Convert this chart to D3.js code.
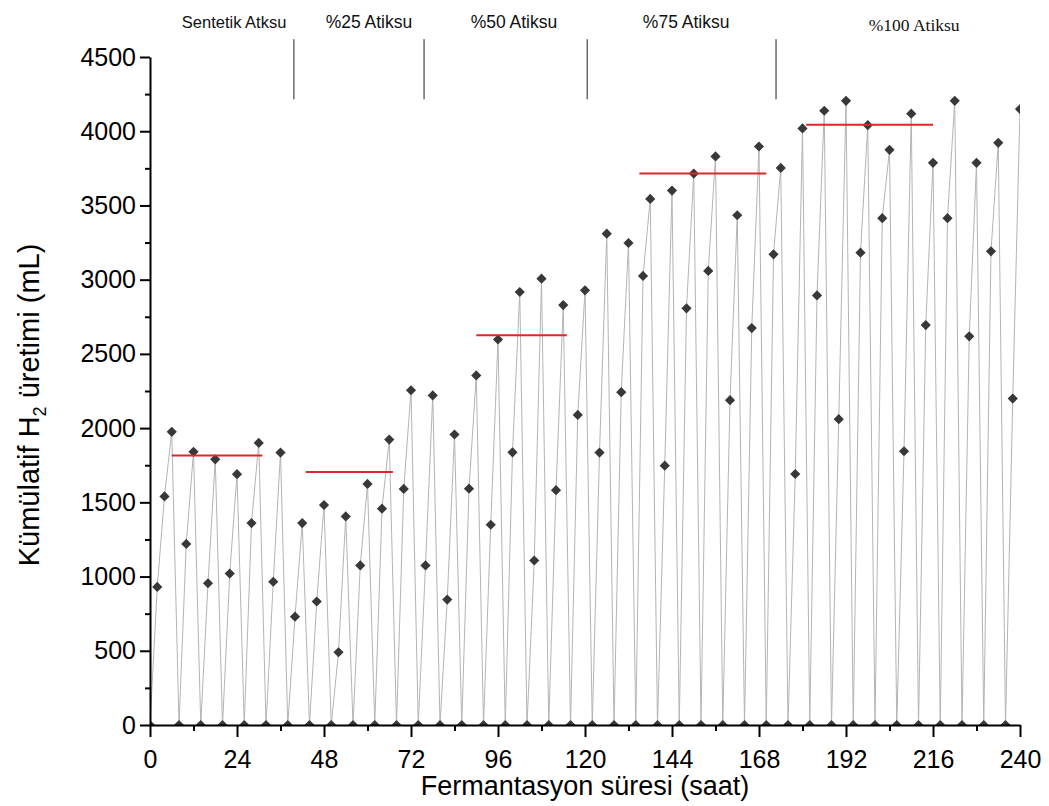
<!DOCTYPE html>
<html>
<head>
<meta charset="utf-8">
<script src="https://cdnjs.cloudflare.com/ajax/libs/d3/7.8.5/d3.min.js"></script>
<style>
  body { margin: 0; background: #fff; }
  text { font-family: "Liberation Sans", Arial, sans-serif; }
</style>
</head>
<body>
<div id="chart"></div>
<script>
// Width and height
var chart_width     =   1049;
var chart_height    =   806;
var margin = {left: 150, right: 29, top: 57, bottom: 81};

// sampling hours (every 2 h)
var hours = [
  0, 2, 4, 6, 8, 10, 12, 14, 16, 18, 20, 22, 24, 26, 28, 30, 32, 34, 36, 38,
  40, 42, 44, 46, 48, 50, 52, 54, 56, 58, 60, 62, 64, 66, 68, 70, 72, 74, 76, 78,
  80, 82, 84, 86, 88, 90, 92, 94, 96, 98, 100, 102, 104, 106, 108, 110, 112, 114, 116, 118,
  120, 122, 124, 126, 128, 130, 132, 134, 136, 138, 140, 142, 144, 146, 148, 150, 152, 154, 156, 158,
  160, 162, 164, 166, 168, 170, 172, 174, 176, 178, 180, 182, 184, 186, 188, 190, 192, 194, 196, 198,
  200, 202, 204, 206, 208, 210, 212, 214, 216, 218, 220, 222, 224, 226, 228, 230, 232, 234, 236, 238,
  240
];

// cumulative H2 (mL)
var h2 = [
  0, 930, 1540, 1975, 0, 1220, 1840, 0, 955, 1790, 0, 1020, 1690, 0, 1360, 1900, 0, 965, 1835, 0,
  730, 1360, 0, 832, 1482, 0, 490, 1405, 0, 1075, 1624, 0, 1457, 1923, 0, 1590, 2255, 0, 1075, 2220,
  0, 845, 1957, 0, 1592, 2355, 0, 1349, 2597, 0, 1837, 2917, 0, 1108, 3007, 0, 1582, 2829, 0, 2089,
  2928, 0, 1835, 3310, 0, 2242, 3247, 0, 3025, 3544, 0, 1747, 3600, 0, 2807, 3715, 0, 3059, 3830, 0,
  2188, 3434, 0, 2674, 3897, 0, 3171, 3753, 0, 1691, 4019, 0, 2894, 4138, 0, 2060, 4205, 0, 3182, 4041,
  0, 3414, 3875, 0, 1844, 4118, 0, 2694, 3787, 0, 3414, 4205, 0, 2618, 3787, 0, 3191, 3922, 0, 2199,
  4149
];

// average levels (red lines) per wastewater ratio
var avg_start = [6, 43, 90, 135, 181];
var avg_end   = [31, 67, 115, 170, 216];
var avg_value = [1815, 1705, 2625, 3715, 4043];

// section labels at top and the divider lines between them
var section_names  = ["Sentetik Atksu", "%25 Atiksu", "%50 Atiksu", "%75 Atiksu", "%100 Atiksu"];
var section_center = [23.2, 60.4, 100.4, 147.9, 210.8];
var dividers       = [39.7, 75.6, 120.6, 172.7];

var x_ticks = [0, 24, 48, 72, 96, 120, 144, 168, 192, 216, 240];
var y_ticks = [0, 500, 1000, 1500, 2000, 2500, 3000, 3500, 4000, 4500];

var data = hours.map(function(h, i){
  return {t: h, v: h2[i]};
});

// scales
var x = d3.scaleLinear()
    .domain([0, 240])
    .range([margin.left, chart_width - margin.right]);
var y = d3.scaleLinear()
    .domain([0, 4500])
    .range([chart_height - margin.bottom, margin.top]);

// Create SVG
var svg             =   d3.select("#chart")
    .append("svg")
    .attr("width", chart_width)
    .attr("height", chart_height);

//clip so the markers on the baseline show only their upper half
svg.append("clipPath")
    .attr("id", "plot-clip")
    .append("rect")
    .attr("x", x(0))
    .attr("y", 0)
    .attr("width", x(240) - x(0))
    .attr("height", y(0));

var plot = svg.append("g").attr("clip-path", "url(#plot-clip)");

//grey connecting line
var line = d3.line()
    .x(function(d){ return x(d.t); })
    .y(function(d){ return y(d.v); });

plot.append("path")
    .datum(data)
    .attr("d", line)
    .attr("fill", "none")
    .attr("stroke", "#b4b4b4")
    .attr("stroke-width", 1);

//diamond markers
var diamond = d3.symbol().type(d3.symbolSquare).size(52);

plot.selectAll(".pt")
    .data(data)
    .enter()
    .append("path")
    .attr("class", "pt")
    .attr("d", diamond)
    .attr("transform", function(d){
      return "translate(" + x(d.t) + "," + y(d.v) + ") rotate(45)";
    })
    .attr("fill", "#383838");

//red average lines
svg.selectAll(".avg")
    .data(avg_value)
    .enter()
    .append("line")
    .attr("class", "avg")
    .attr("x1", function(d, i){ return x(avg_start[i]); })
    .attr("x2", function(d, i){ return x(avg_end[i]); })
    .attr("y1", function(d){ return y(d); })
    .attr("y2", function(d){ return y(d); })
    .attr("stroke", "#e0262a")
    .attr("stroke-width", 2);

//section dividers above the plot
svg.selectAll(".div")
    .data(dividers)
    .enter()
    .append("line")
    .attr("class", "div")
    .attr("x1", function(d){ return x(d); })
    .attr("x2", function(d){ return x(d); })
    .attr("y1", y(4620))
    .attr("y2", y(4215))
    .attr("stroke", "#222")
    .attr("stroke-width", 1);

svg.selectAll(".sec")
    .data(section_names)
    .enter()
    .append("text")
    .attr("class", "sec")
    .attr("x", function(d, i){ return x(section_center[i]); })
    .attr("y", function(d, i){ return i == 4 ? 31 : 28; })
    .attr("text-anchor", "middle")
    .style("font-family", function(d, i){
      return i == 4 ? "'Liberation Serif', 'Times New Roman', serif" : null;
    })
    .style("font-size", function(d, i){ return i == 0 ? "16.5px" : "17.5px"; })
    .attr("fill", "#111")
    .text(function(d){ return d; });

// axes
var x_axis = svg.append("g")
    .attr("transform", "translate(0," + y(0) + ")")
    .call(d3.axisBottom(x).tickValues(x_ticks).tickSize(12).tickPadding(13).tickSizeOuter(0));

svg.append("g")
    .attr("transform", "translate(0," + y(0) + ")")
    .call(d3.axisBottom(x).tickValues(d3.range(12, 240, 24)).tickSize(6).tickFormat("").tickSizeOuter(0))
    .select(".domain").remove();

var y_axis = svg.append("g")
    .attr("transform", "translate(" + x(0) + ",0)")
    .call(d3.axisLeft(y).tickValues(y_ticks).tickSize(10).tickPadding(4)
      .tickFormat(d3.format("d")).tickSizeOuter(0));

svg.append("g")
    .attr("transform", "translate(" + x(0) + ",0)")
    .call(d3.axisLeft(y).tickValues(d3.range(250, 4500, 500)).tickSize(5).tickFormat("").tickSizeOuter(0))
    .select(".domain").remove();

svg.selectAll(".domain, .tick line")
    .attr("stroke", "#000")
    .attr("stroke-width", 2);

x_axis.selectAll("text")
    .style("font-size", "25px")
    .style("font-family", "'Liberation Sans', Arial, sans-serif")
    .attr("fill", "#000");

y_axis.selectAll("text")
    .style("font-size", "25px")
    .style("font-family", "'Liberation Sans', Arial, sans-serif")
    .attr("fill", "#000");

// axis titles
svg.append("text")
    .attr("x", (x(0) + x(240)) / 2)
    .attr("y", 795)
    .attr("text-anchor", "middle")
    .style("font-size", "27px")
    .attr("fill", "#000")
    .text("Fermantasyon süresi (saat)");

var ytitle = svg.append("text")
    .attr("transform", "translate(39," + 405 + ") rotate(-90)")
    .attr("text-anchor", "middle")
    .style("font-size", "29px")
    .attr("fill", "#000");
ytitle.append("tspan").text("Kümülatif H");
ytitle.append("tspan").attr("dy", 7).style("font-size", "18px").text("2");
ytitle.append("tspan").attr("dy", -7).text(" üretimi (mL)");
</script>
</body>
</html>
